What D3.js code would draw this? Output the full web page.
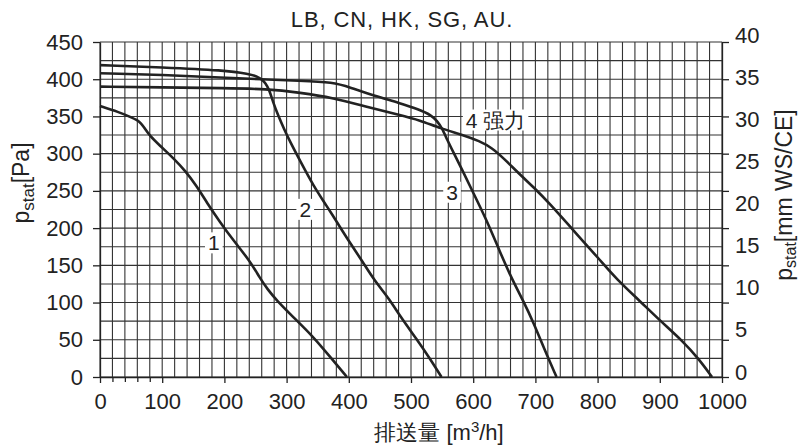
<!DOCTYPE html>
<html><head><meta charset="utf-8">
<script src="https://cdn.jsdelivr.net/npm/d3@7"></script>
<style>
body{margin:0;background:#fff;}
svg{display:block;font-family:"Liberation Sans",Arial,Helvetica,sans-serif;}
</style></head>
<body><svg id="c" width="800" height="447"></svg>
<script>
// ---- data ----
const titleText = "LB, CN, HK, SG, AU.";
const flowTicks = [0,100,200,300,400,500,600,700,800,900,1000];
const flowMinorTicks = [20,40,60,80];
const paTicks = [0,50,100,150,200,250,300,350,400,450];
const mmTicks = [0,5,10,15,20,25,30,35,40];
const curveNames = ["1","2","3","4 强力"];
const curve1 = [[0,364],[30,356],[50,349],[60,345],[66,341],[72,334],[80,324],[96,311],[118,294],[137,277],[155,257],[172,234],[193,208],[214,184],[241,156],[257,133],[270,117],[284,103],[310,81],[343,54],[370,27],[397,0]];
const curve2 = [[0,419],[100,416],[200,412],[240,407],[252,404],[260,400],[266,395],[272,386],[278,370],[286,352],[296,333],[305,317],[322,290],[343,257],[365,229],[381,208],[402,180],[423,154],[440,131],[466,104],[482,82],[509,51],[531,24],[549,0]];
const curve3 = [[0,408],[100,406],[200,402],[260,400],[320,398],[375,396],[402,389],[440,378],[482,368],[514,359],[532,352],[542,344],[550,334],[558,319],[568,302],[583,277],[598,251],[622,210],[643,168],[662,132],[680,103],[697,73],[715,36],[734,0]];
const curve4 = [[0,390],[100,389],[200,388],[268,387],[322,382],[375,375],[429,363],[482,352],[514,345],[547,334],[584,325],[610,317],[630,308],[650,293],[675,272],[697,255],[723,233],[762,196],[804,157],[831,131],[868,102],[900,76],[937,48],[962,25],[984,0]];
const labelPos = [[183,180],[330,225],[566,248],[636,345]]; // [flow, Pa] label anchor

// ---- layout ----
const svg = d3.select("#c");
const x = d3.scaleLinear().domain([0,1000]).range([100,722]);
const y = d3.scaleLinear().domain([0,450]).range([377,42]);
const ymm = d3.scaleLinear().domain([0,40]).range([372,35]);
const ink = "#222";

// grid
const g = svg.append("g");
g.selectAll("line.v").data(d3.range(0,1001,20)).join("line")
  .attr("x1",d=>x(d)).attr("x2",d=>x(d)).attr("y1",y(0)).attr("y2",y(450))
  .attr("stroke","#333").attr("stroke-width",1.1);
g.selectAll("line.h").data(d3.range(0,451,25)).join("line")
  .attr("x1",x(0)).attr("x2",x(1000)).attr("y1",d=>y(d)).attr("y2",d=>y(d))
  .attr("stroke","#333").attr("stroke-width",1.1);

// axes
function styleAxis(sel){
  sel.selectAll("path").attr("stroke",ink).attr("stroke-width",1.3);
  sel.selectAll("line").attr("stroke",ink).attr("stroke-width",1.3);
  sel.selectAll("text").attr("fill",ink).style("font-size","22px");
}
const ax = svg.append("g").attr("transform",`translate(0,${y(0)})`)
  .call(d3.axisBottom(x).tickValues(flowTicks).tickFormat(d3.format("d")).tickSize(6).tickPadding(10).tickSizeOuter(0));
styleAxis(ax);
const axm = svg.append("g").attr("transform",`translate(0,${y(0)})`)
  .call(d3.axisBottom(x).tickValues(flowMinorTicks).tickSize(5).tickFormat("").tickSizeOuter(0));
styleAxis(axm); axm.select("path").remove();
const ayl = svg.append("g").attr("transform",`translate(${x(0)},0)`)
  .call(d3.axisLeft(y).tickValues(paTicks).tickSize(7).tickPadding(10).tickSizeOuter(0));
styleAxis(ayl);
const ayr = svg.append("g").attr("transform",`translate(${x(1000)},0)`)
  .call(d3.axisRight(y).tickValues(paTicks).tickSize(7).tickFormat("").tickSizeOuter(0));
styleAxis(ayr);
const ayr2 = svg.append("g").attr("transform",`translate(${x(1000)},0)`)
  .call(d3.axisRight(ymm).tickValues(mmTicks).tickSize(0).tickPadding(13));
styleAxis(ayr2); ayr2.select("path").remove();

// curves
const line = d3.line().x(d=>x(d[0])).y(d=>y(d[1])).curve(d3.curveBasis);
[curve1,curve2,curve3,curve4].forEach(c=>{
  svg.append("path").datum(c).attr("d",line).attr("fill","none")
    .attr("stroke",ink).attr("stroke-width",2.6).attr("stroke-linejoin","round");
});

// curve labels with white boxes
curveNames.forEach((t,i)=>{
  const lg = svg.append("g").attr("transform",`translate(${x(labelPos[i][0])},${y(labelPos[i][1])})`);
  const tx = lg.append("text").attr("text-anchor","middle").attr("dy","0.35em")
    .style("font-size","21px").attr("fill",ink).text(t);
  const bb = tx.node().getBBox();
  lg.insert("rect","text").attr("x",bb.x-3).attr("y",bb.y+1).attr("width",bb.width+6).attr("height",bb.height-2).attr("fill","#fff");
});

// title
svg.append("text").attr("x",402).attr("y",27).attr("text-anchor","middle")
  .style("font-size","22px").style("letter-spacing","0.9px").attr("fill",ink).text(titleText);

// left axis title
const lt = svg.append("text").attr("transform","translate(29,183) rotate(-90)")
  .attr("text-anchor","middle").style("font-size","23px").attr("fill",ink);
lt.append("tspan").text("p");
lt.append("tspan").attr("dy","5").style("font-size","17px").text("stat");
lt.append("tspan").attr("dy","-5").text("[Pa]");

// right axis title
const rt = svg.append("text").attr("transform","translate(792,195) rotate(-90)")
  .attr("text-anchor","middle").style("font-size","23px").attr("fill",ink);
rt.append("tspan").text("p");
rt.append("tspan").attr("dy","4").style("font-size","16px").text("stat");
rt.append("tspan").attr("dy","-4").text("[mm WS/CE]");

// x axis title
const xt = svg.append("text").attr("x",439).attr("y",440).attr("text-anchor","middle")
  .style("font-size","22px").attr("fill",ink);
xt.append("tspan").text("排送量 [m");
xt.append("tspan").attr("dy","-8").style("font-size","15px").text("3");
xt.append("tspan").attr("dy","8").text("/h]");
</script></body></html>
